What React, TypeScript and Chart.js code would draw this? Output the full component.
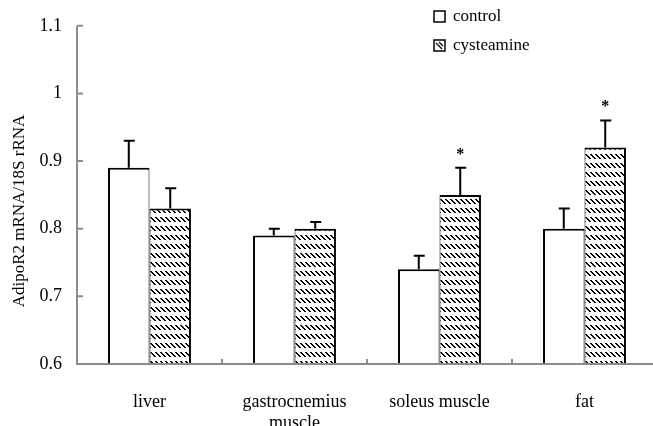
import React, { useEffect, useRef } from 'react';
import { Chart, registerables } from 'chart.js';

Chart.register(...registerables);

const categories = [['liver'], ['gastrocnemius', 'muscle'], ['soleus muscle'], ['fat']];
const seriesNames = ['control', 'cysteamine'];
const controlValues = [0.89, 0.79, 0.74, 0.8];
const controlErrors = [0.04, 0.01, 0.02, 0.03];
const cysteamineValues = [0.83, 0.8, 0.85, 0.92];
const cysteamineErrors = [0.03, 0.01, 0.04, 0.04];
const cysteamineMarks = ['', '', '*', '*'];
const yTicks = [0.6, 0.7, 0.8, 0.9, 1.0, 1.1];
const yTickLabels = ['0.6', '0.7', '0.8', '0.9', '1', '1.1'];
const yTitle = 'AdipoR2 mRNA/18S rRNA';

const SERIF = '"Liberation Serif", "Times New Roman", serif';

function makeHatch(): CanvasPattern | string {
  const c = document.createElement('canvas');
  c.width = 5;
  c.height = 9;
  const g = c.getContext('2d');
  if (!g) return '#888';
  g.fillStyle = '#fff';
  g.fillRect(0, 0, 5, 9);
  g.fillStyle = '#000';
  for (let k = 0; k < 5; k++) {
    g.fillRect(k % 5, k + 1, 1, 1);
    g.fillRect((k + 1) % 5, k + 1, 1, 1);
  }
  return g.createPattern(c, 'repeat') || '#888';
}

const overlayPlugin = {
  id: 'overlay',
  afterDatasetsDraw(chart: any) {
    const ctx = chart.ctx as CanvasRenderingContext2D;
    const ys = chart.scales.y;
    const xs = chart.scales.x;
    const area = chart.chartArea;
    const errs = [controlErrors, cysteamineErrors];
    ctx.save();

    // error bars
    ctx.strokeStyle = '#000';
    ctx.lineWidth = 2;
    chart.data.datasets.forEach((ds: any, di: number) => {
      const meta = chart.getDatasetMeta(di);
      meta.data.forEach((bar: any, i: number) => {
        const v = ds.data[i] as number;
        const top = ys.getPixelForValue(v + errs[di][i]);
        ctx.beginPath();
        ctx.moveTo(bar.x, bar.y);
        ctx.lineTo(bar.x, top);
        ctx.moveTo(bar.x - 5, top);
        ctx.lineTo(bar.x + 6, top);
        ctx.stroke();
        if (di === 1 && cysteamineMarks[i]) {
          ctx.fillStyle = '#000';
          ctx.font = `bold 16px ${SERIF}`;
          ctx.textAlign = 'center';
          ctx.textBaseline = 'alphabetic';
          ctx.fillText(cysteamineMarks[i], bar.x, top - 9);
        }
      });
    });

    // axes
    ctx.strokeStyle = '#8c8c8c';
    ctx.lineWidth = 2;
    ctx.beginPath();
    ctx.moveTo(area.left, area.top);
    ctx.lineTo(area.left, area.bottom);
    ctx.lineTo(area.right, area.bottom);
    ctx.stroke();
    ctx.beginPath();
    yTicks.forEach((v) => {
      const py = ys.getPixelForValue(v);
      ctx.moveTo(area.left, py);
      ctx.lineTo(area.left + 6, py);
    });
    for (let i = 1; i < categories.length; i++) {
      const px = (xs.getPixelForValue(i - 1) + xs.getPixelForValue(i)) / 2;
      ctx.moveTo(px, area.bottom);
      ctx.lineTo(px, area.bottom - 5);
    }
    ctx.stroke();

    // y title
    ctx.fillStyle = '#000';
    ctx.font = `17px ${SERIF}`;
    ctx.textAlign = 'center';
    ctx.textBaseline = 'middle';
    ctx.save();
    ctx.translate(20, 211);
    ctx.rotate(-Math.PI / 2);
    ctx.fillText(yTitle, 0, 0);
    ctx.restore();

    // legend
    const lx = 434;
    const rows = [17, 46];
    ctx.font = `17px ${SERIF}`;
    ctx.textAlign = 'left';
    ctx.textBaseline = 'middle';
    seriesNames.forEach((name, i) => {
      const cy = rows[i];
      const bx = lx;
      const by = cy - 6;
      ctx.fillStyle = '#fff';
      ctx.fillRect(bx, by, 11, 11);
      if (i === 1) {
        ctx.strokeStyle = '#000';
        ctx.lineWidth = 1.2;
        ctx.beginPath();
        ctx.moveTo(bx + 2, by + 3);
        ctx.lineTo(bx + 8, by + 9);
        ctx.moveTo(bx + 5, by + 2);
        ctx.lineTo(bx + 9, by + 6);
        ctx.stroke();
      }
      ctx.strokeStyle = '#000';
      ctx.lineWidth = 1.5;
      ctx.strokeRect(bx, by, 11, 11);
      ctx.fillStyle = '#000';
      ctx.fillText(name, lx + 19, cy);
    });

    ctx.restore();
  },
};

export default function App() {
  const canvasRef = useRef<HTMLCanvasElement | null>(null);

  useEffect(() => {
    const canvas = canvasRef.current;
    if (!canvas) return;
    const hatch = makeHatch();
    const chart = new Chart(canvas, {
      type: 'bar',
      data: {
        labels: categories,
        datasets: [
          {
            label: seriesNames[0],
            data: controlValues,
            backgroundColor: '#fff',
            borderColor: '#000',
            borderWidth: { top: 2, left: 2, right: 1, bottom: 0 },
            borderSkipped: 'start',
            categoryPercentage: 0.572,
            barPercentage: 1,
          },
          {
            label: seriesNames[1],
            data: cysteamineValues,
            backgroundColor: hatch as any,
            borderColor: '#000',
            borderWidth: { top: 2, left: 1, right: 2, bottom: 0 },
            borderSkipped: 'start',
            categoryPercentage: 0.572,
            barPercentage: 1,
          },
        ],
      },
      options: {
        responsive: false,
        animation: false,
        devicePixelRatio: 1,
        layout: { padding: { left: 0, top: 21, right: 15, bottom: 0 } },
        plugins: {
          legend: { display: false },
          tooltip: { enabled: false },
          title: { display: false },
        },
        scales: {
          x: {
            grid: { display: true, drawOnChartArea: false, drawTicks: false },
            border: { display: false },
            ticks: {
              color: '#000',
              font: { family: SERIF, size: 18 },
              padding: 27,
              maxRotation: 0,
              autoSkip: false,
            },
            afterFit: (scale: any) => {
              scale.height = 62;
            },
          },
          y: {
            min: 0.6,
            max: 1.1,
            afterBuildTicks: (scale: any) => {
              scale.ticks = yTicks.map((v) => ({ value: v }));
            },
            grid: { display: true, drawOnChartArea: false, drawTicks: false },
            border: { display: false },
            ticks: {
              color: '#000',
              font: { family: SERIF, size: 18 },
              padding: 15,
              callback: (_v: any, i: number) => yTickLabels[i],
            },
            afterFit: (scale: any) => {
              scale.width = 77;
            },
          },
        },
      },
      plugins: [overlayPlugin],
    });
    return () => chart.destroy();
  }, []);

  return (
    <div style={{ position: 'absolute', left: 0, top: 0, width: 653, height: 426, overflow: 'hidden', background: '#fff' }}>
      <canvas ref={canvasRef} width={672} height={426} style={{ display: 'block', width: 672, height: 426 }} />
    </div>
  );
}
